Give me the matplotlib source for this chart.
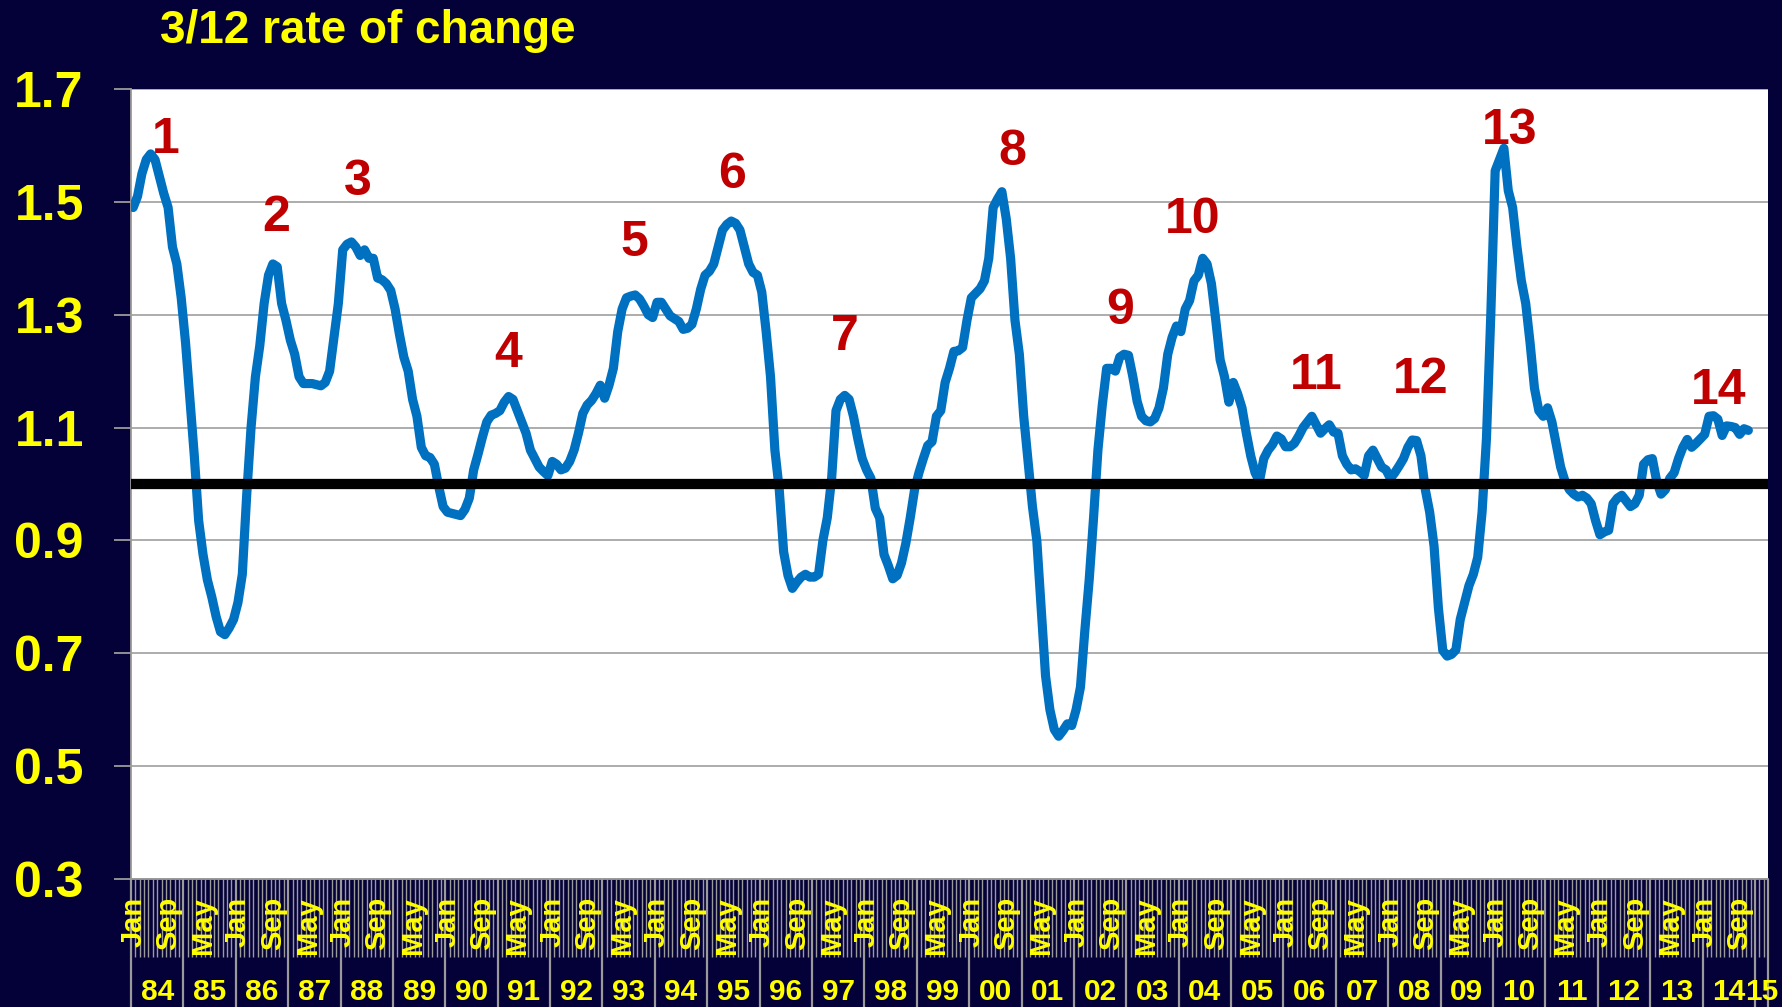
import matplotlib
matplotlib.use("Agg")
import matplotlib.pyplot as plt
from matplotlib.ticker import FixedLocator
from matplotlib.transforms import blended_transform_factory

# monthly 3/12 rate of change, Jan 1984 .. Nov 2014
y1984 = [1.49, 1.51, 1.55, 1.575, 1.585, 1.575, 1.545, 1.515, 1.49, 1.42, 1.39, 1.33]
y1985 = [1.25, 1.15, 1.05, 0.935, 0.875, 0.83, 0.80, 0.765, 0.738, 0.733, 0.745, 0.76]
y1986 = [0.79, 0.84, 0.98, 1.10, 1.19, 1.245, 1.32, 1.37, 1.39, 1.385, 1.32, 1.29]
y1987 = [1.255, 1.23, 1.19, 1.178, 1.178, 1.178, 1.176, 1.174, 1.18, 1.20, 1.26, 1.32]
y1988 = [1.415, 1.425, 1.429, 1.42, 1.405, 1.415, 1.40, 1.40, 1.365, 1.362, 1.355, 1.343]
y1989 = [1.31, 1.265, 1.225, 1.20, 1.15, 1.12, 1.065, 1.05, 1.047, 1.035, 0.995, 0.96]
y1990 = [0.95, 0.948, 0.946, 0.944, 0.955, 0.975, 1.025, 1.053, 1.083, 1.11, 1.122, 1.125]
y1991 = [1.13, 1.145, 1.155, 1.15, 1.13, 1.11, 1.09, 1.06, 1.045, 1.03, 1.022, 1.015]
y1992 = [1.04, 1.035, 1.025, 1.028, 1.04, 1.06, 1.09, 1.125, 1.14, 1.148, 1.16, 1.175]
y1993 = [1.152, 1.175, 1.205, 1.27, 1.31, 1.33, 1.333, 1.335, 1.328, 1.315, 1.30, 1.295]
y1994 = [1.322, 1.322, 1.31, 1.298, 1.293, 1.288, 1.274, 1.276, 1.283, 1.31, 1.345, 1.37]
y1995 = [1.377, 1.39, 1.42, 1.45, 1.46, 1.466, 1.462, 1.45, 1.42, 1.39, 1.375, 1.37]
y1996 = [1.34, 1.27, 1.19, 1.06, 0.99, 0.88, 0.838, 0.815, 0.826, 0.835, 0.84, 0.835]
y1997 = [0.835, 0.84, 0.90, 0.94, 1.01, 1.13, 1.15, 1.157, 1.15, 1.12, 1.08, 1.045]
y1998 = [1.025, 1.01, 0.957, 0.94, 0.875, 0.855, 0.832, 0.838, 0.86, 0.895, 0.94, 0.99]
y1999 = [1.02, 1.045, 1.068, 1.075, 1.12, 1.13, 1.18, 1.205, 1.235, 1.236, 1.242, 1.29]
y2000 = [1.33, 1.338, 1.346, 1.36, 1.40, 1.49, 1.505, 1.518, 1.47, 1.40, 1.29, 1.23]
y2001 = [1.12, 1.04, 0.96, 0.90, 0.78, 0.66, 0.60, 0.565, 0.553, 0.563, 0.575, 0.572]
y2002 = [0.60, 0.64, 0.74, 0.83, 0.94, 1.06, 1.14, 1.205, 1.205, 1.20, 1.225, 1.23]
y2003 = [1.228, 1.19, 1.146, 1.12, 1.112, 1.11, 1.116, 1.135, 1.17, 1.23, 1.26, 1.28]
y2004 = [1.27, 1.31, 1.325, 1.36, 1.37, 1.40, 1.39, 1.355, 1.29, 1.22, 1.19, 1.145]
y2005 = [1.18, 1.16, 1.135, 1.09, 1.05, 1.02, 1.005, 1.045, 1.06, 1.07, 1.085, 1.08]
y2006 = [1.066, 1.066, 1.072, 1.085, 1.10, 1.11, 1.12, 1.105, 1.09, 1.098, 1.105, 1.092]
y2007 = [1.09, 1.05, 1.035, 1.025, 1.027, 1.022, 1.015, 1.05, 1.06, 1.045, 1.03, 1.025]
y2008 = [1.01, 1.02, 1.032, 1.045, 1.065, 1.078, 1.077, 1.05, 0.99, 0.95, 0.89, 0.78]
y2009 = [0.705, 0.695, 0.698, 0.706, 0.76, 0.79, 0.82, 0.84, 0.87, 0.95, 1.08, 1.30]
y2010 = [1.555, 1.575, 1.595, 1.52, 1.49, 1.42, 1.36, 1.32, 1.25, 1.17, 1.13, 1.12]
y2011 = [1.135, 1.11, 1.07, 1.03, 1.005, 0.99, 0.982, 0.977, 0.98, 0.975, 0.965, 0.935]
y2012 = [0.91, 0.915, 0.918, 0.965, 0.975, 0.98, 0.97, 0.96, 0.965, 0.98, 1.035, 1.043]
y2013 = [1.045, 1.005, 0.982, 0.99, 1.01, 1.02, 1.045, 1.065, 1.079, 1.065, 1.072, 1.08]
y2014 = [1.088, 1.12, 1.121, 1.115, 1.086, 1.103, 1.102, 1.10, 1.088, 1.098, 1.095]

month_names = ["Jan", "Feb", "Mar", "Apr", "May", "Jun",
               "Jul", "Aug", "Sep", "Oct", "Nov", "Dec"]
year_labels = ["84", "85", "86", "87", "88", "89", "90", "91", "92", "93", "94",
               "95", "96", "97", "98", "99", "00", "01", "02", "03", "04", "05",
               "06", "07", "08", "09", "10", "11", "12", "13", "14", "15"]
n_months = 375  # category axis runs Jan 84 .. Mar 15

# numbered turning points: month index and level
peak_labels = ["1", "2", "3", "4", "5", "6", "7", "8", "9", "10", "11", "12", "13", "14"]
peak_month = [7.5, 32.7, 51.5, 85.9, 114.7, 137.2, 163.1, 201.3, 226.1, 242.6, 271, 295, 315.2, 363.3]
peak_level = [1.586, 1.448, 1.512, 1.208, 1.404, 1.524, 1.237, 1.565, 1.283, 1.444, 1.168, 1.162, 1.602, 1.141]

yticks = [0.3, 0.5, 0.7, 0.9, 1.1, 1.3, 1.5, 1.7]

rate = (y1984 + y1985 + y1986 + y1987 + y1988 + y1989 + y1990 + y1991 + y1992
        + y1993 + y1994 + y1995 + y1996 + y1997 + y1998 + y1999 + y2000 + y2001
        + y2002 + y2003 + y2004 + y2005 + y2006 + y2007 + y2008 + y2009 + y2010
        + y2011 + y2012 + y2013 + y2014)

BG = "#040038"
YELLOW = "#FFFF00"
GREY = "#9A9A9A"
FONT = "Liberation Sans"

W, H = 1783, 1007
fig = plt.figure(figsize=(W / 100, H / 100), dpi=100, facecolor=BG)
left, right, top, bottom = 131, 1768, 89, 879
ax = fig.add_axes([left / W, 1 - bottom / H, (right - left) / W, (bottom - top) / H])
ax.set_facecolor("white")

ax.plot(range(len(rate)), rate, color="#0070C0", lw=6.6,
        solid_joinstyle="round", solid_capstyle="round", zorder=3)
ax.axhline(1.0, color="black", lw=7.4, zorder=4)

ax.set_xlim(-0.5, n_months - 0.5)
ax.set_ylim(0.3, 1.7)

# y axis
ax.set_yticks(yticks)
ax.set_yticklabels([f"{t:.1f}" for t in yticks], color=YELLOW, fontsize=36,
                   fontweight="bold", family=FONT)
ax.tick_params(axis="y", direction="out", length=12, width=1.3, color=GREY, pad=22)
ax.yaxis.grid(True, color="#A6A6A6", lw=1.3)
ax.set_axisbelow(True)

for s in ["top", "right"]:
    ax.spines[s].set_visible(False)
for s in ["left", "bottom"]:
    ax.spines[s].set_color(GREY)
    ax.spines[s].set_linewidth(1.3)

# x axis: month dividers (minor) and year dividers (major, longer)
year_edges = [-0.5 + 12 * k for k in range(len(year_labels))] + [n_months - 0.5]
ax.xaxis.set_major_locator(FixedLocator(year_edges))
ax.xaxis.set_minor_locator(FixedLocator([m - 0.5 for m in range(n_months + 1)]))
ax.tick_params(axis="x", which="major", direction="out", length=93, width=1.6,
               color=GREY, labelbottom=False)
ax.tick_params(axis="x", which="minor", direction="out", length=56, width=1.0,
               color=GREY)

trans = blended_transform_factory(ax.transData, ax.transAxes)
plot_h = bottom - top
for m in range(0, n_months, 8):
    ax.text(m, -(897 - bottom) / plot_h, month_names[m % 12], transform=trans,
            rotation=90, ha="center", va="top", color=YELLOW, fontsize=21,
            fontweight="bold", family=FONT)

for k, lab in enumerate(year_labels):
    x0, x1 = year_edges[k], year_edges[k + 1]
    ax.text((x0 + x1) / 2, -(1000 - bottom) / plot_h, lab, transform=trans,
            ha="center", va="baseline", color=YELLOW, fontsize=21.5,
            fontweight="bold", family=FONT)

for lab, mx, lv in zip(peak_labels, peak_month, peak_level):
    ax.text(mx, lv, lab, ha="center", va="baseline", color="#C00000",
            fontsize=36, fontweight="bold", family=FONT, zorder=5)

fig.text(160 / W, 1 - 43 / H, "3/12 rate of change", ha="left", va="baseline",
         color=YELLOW, fontsize=33, fontweight="bold", family=FONT)

fig.savefig("out.png", dpi=100, facecolor=BG)
